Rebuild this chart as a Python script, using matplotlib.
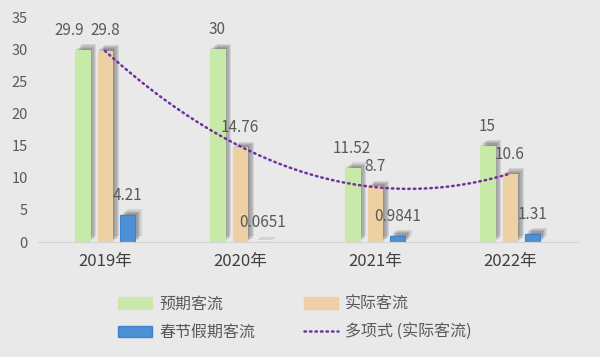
import matplotlib
matplotlib.use('Agg')
import matplotlib.pyplot as plt
import matplotlib.patheffects as pe
from matplotlib.patches import Patch
import numpy as np

plt.rcParams['font.family'] = ['Noto Sans CJK SC', 'DejaVu Sans']

years = ['2019年', '2020年', '2021年', '2022年']
expected = [29.9, 30, 11.52, 15]
actual = [29.8, 14.76, 8.7, 10.6]
holiday = [4.21, 0.0651, 0.9841, 1.31]
series_names = ['预期客流', '实际客流', '春节假期客流']
trend_name = '多项式 (实际客流)'

bg = '#e9e9e9'
txt = '#595959'
colors = ['#c8eaa9', '#edd0a3', '#4d90d6']
edges = ['#c8eaa9', '#edd0a3', '#3f80c8']

fig = plt.figure(figsize=(6, 3.57), dpi=100, facecolor=bg)
ax = fig.add_axes([0.0625, 0.322, 0.9, 0.63], facecolor=bg)

x = np.arange(len(years))
w = 0.111
offs = [-0.17, 0, 0.165]
# soft shadow up/right of every bar, built from a few faint offset copies
shadow = [pe.SimplePatchShadow(offset=(o, o * 0.8), shadow_rgbFace='#000000', alpha=0.09)
          for o in (5, 4, 3, 2, 1)] + [pe.Normal()]

for i, (vals, off, c, ec) in enumerate(zip([expected, actual, holiday], offs, colors, edges)):
    b = ax.bar(x + off, vals, w, color=c, edgecolor=ec, linewidth=0.8, zorder=2)
    for r in b:
        r.set_path_effects(shadow)
    for j, (xi, v) in enumerate(zip(x + off, vals)):
        dx = -9 if (i == 0 and j == 0) else 0
        ax.annotate('%g' % v, (xi, v), xytext=(dx, 8), textcoords='offset points',
                    ha='center', va='bottom', fontsize=11, color=txt, zorder=4)

# 2nd order polynomial trendline of actual values
coef = np.polyfit(x + 1, actual, 2)
xs = np.linspace(0, 3, 100)
tl, = ax.plot(xs, np.polyval(coef, xs + 1), color='#7030a0', lw=1.8,
              linestyle=(0, (0.6, 1.6)), dash_capstyle='round', zorder=3)

ax.set_xlim(-0.5, 3.5)
ax.set_ylim(0, 35)
ax.set_yticks(range(0, 36, 5))
ax.set_xticks(x)
ax.set_xticklabels(years, fontsize=12, color='#404040')
ax.tick_params(axis='y', labelsize=10.5, colors=txt, length=0, pad=7)
ax.tick_params(axis='x', length=0, pad=8)
for s in ['top', 'right', 'left']:
    ax.spines[s].set_visible(False)
ax.spines['bottom'].set_color('#d4d4d4')

hp = [Patch(facecolor=c, edgecolor=ec) for c, ec in zip(colors, edges)]
# matplotlib fills legend column-wise: reorder so rows read like the reference
leg = fig.legend([hp[0], hp[2], hp[1], tl],
                 [series_names[0], series_names[2], series_names[1], trend_name],
                 loc='lower left', bbox_to_anchor=(0.197, 0.045), ncol=2,
                 frameon=False, fontsize=11.5, labelcolor=txt,
                 borderpad=0, borderaxespad=0,
                 handlelength=2.1, handleheight=0.7, handletextpad=0.45,
                 columnspacing=3.1, labelspacing=0.7)
fig.savefig('out.png', dpi=100, facecolor=bg)
